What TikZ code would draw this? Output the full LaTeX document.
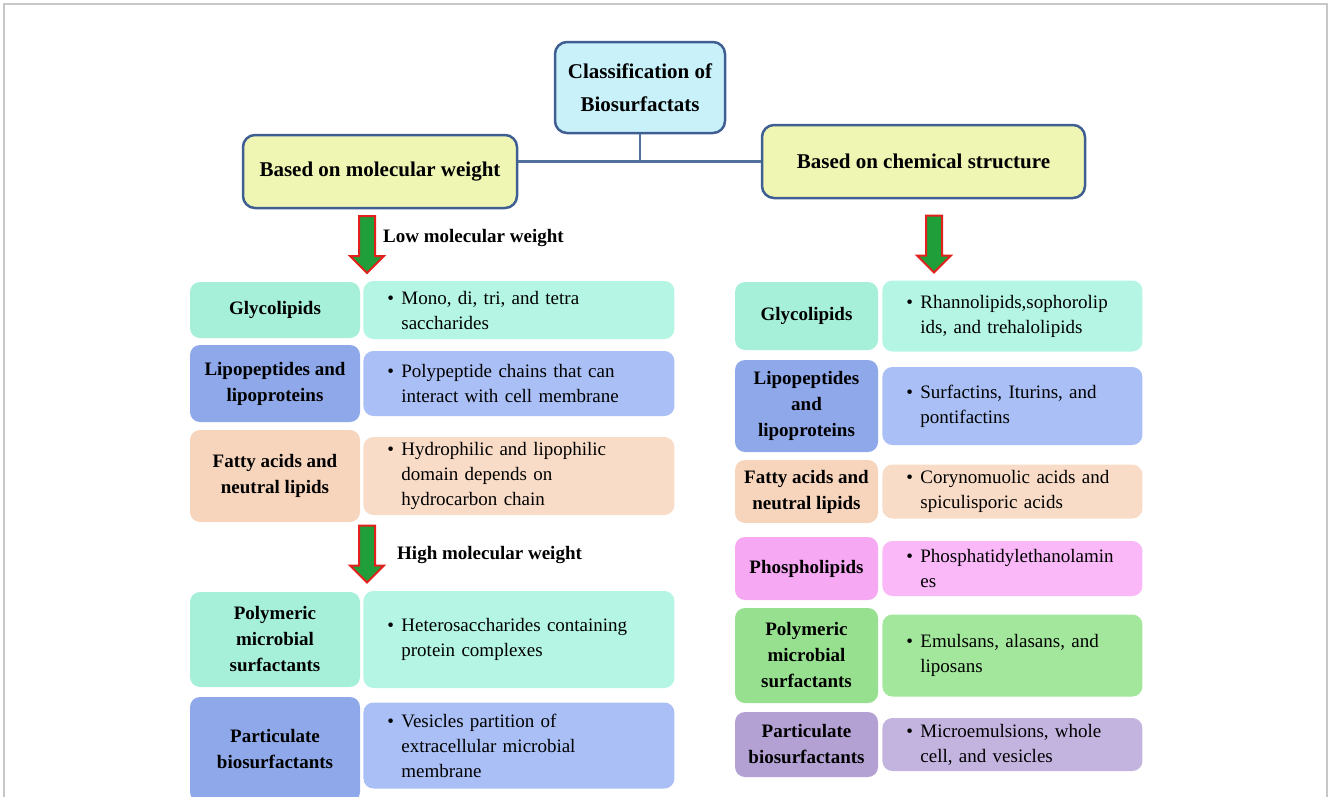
\documentclass[tikz,border=0pt]{standalone}
\usepackage{fontspec}
\setmainfont{Liberation Serif}
\usetikzlibrary{positioning, shapes.arrows}

\definecolor{hdrline}{HTML}{3F5F92}
\definecolor{hdrfill}{HTML}{EFF6B4}
\definecolor{clsfill}{HTML}{C8F1FA}
\definecolor{arrgreen}{HTML}{1F9E3A}
\definecolor{arrred}{HTML}{E3211C}
\definecolor{mintA}{HTML}{A6F0D9}
\definecolor{mintB}{HTML}{B4F6E3}
\definecolor{blueA}{HTML}{8EA8EA}
\definecolor{blueB}{HTML}{A9BFF5}
\definecolor{peachA}{HTML}{F7D5BD}
\definecolor{peachB}{HTML}{F9DCC7}
\definecolor{pinkA}{HTML}{F6A8F3}
\definecolor{pinkB}{HTML}{FAB8F8}
\definecolor{greenA}{HTML}{97E08F}
\definecolor{greenB}{HTML}{A3E79C}
\definecolor{purpleA}{HTML}{B3A1D4}
\definecolor{purpleB}{HTML}{C3B3DF}

\newcommand{\bul}[1]{\mbox{\makebox[14pt][l]{\textbullet}#1}}
\newcommand{\cnt}[1]{\mbox{\hspace*{14pt}#1}}

\begin{document}
\begin{tikzpicture}[
    x=1pt, y=-1pt,
    font=\fontsize{19}{25}\selectfont,
    header/.style={
        draw=hdrline,
        line width=2.5pt,
        rounded corners=12pt,
        fill=hdrfill,
        inner sep=0pt,
        align=center,
        font=\fontsize{21}{33}\selectfont\bfseries
    },
    link/.style={draw=hdrline!90, line width=2.5pt},
    downarrow/.style={
        single arrow, draw=arrred, fill=arrgreen, line width=2pt,
        rotate=-90, inner xsep=0pt, inner ysep=7pt,
        minimum height=57pt, minimum width=33pt,
        single arrow head extend=9pt
    },
    weight/.style={anchor=west, inner sep=0pt, font=\fontsize{19}{25}\selectfont\bfseries},
    cat/.style={rounded corners=10pt, inner sep=0pt, align=center,
        font=\fontsize{19}{26}\selectfont\bfseries},
    lcat/.style={cat, minimum width=170pt},
    rcat/.style={cat, minimum width=143pt},
    desc/.style={rounded corners=10pt, inner sep=0pt, align=left},
    ldesc/.style={desc, minimum width=311pt, text width=263pt},
    rdesc/.style={desc, minimum width=260pt, text width=212pt}
]

    % Frame
    \useasboundingbox (0,0) rectangle (1328,796);
    \draw[black!22, line width=2pt] (4,800) -- (4,4) -- (1327,4) -- (1327,800);

    % Top of the tree
    \node[header, fill=clsfill, minimum width=170pt, minimum height=91pt] (cls) at (640,87.5) {Classification of\\Biosurfactats};
    \node[header, minimum width=274pt, minimum height=73pt] (molw) at (380,171.5) {Based on molecular weight};
    \node[header, minimum width=323pt, minimum height=73pt] (chem) at (923.5,161.5) {Based on chemical structure};

    % Links
    \coordinate (split) at (cls.south |- chem.west);
    \draw[link] (molw.east |- split) -- (chem.west);
    \draw[link] (cls.south) -- (split);

    % Block arrows
    \node[downarrow] (arrLow) at (367,240.5) {};
    \node[downarrow] (arrHigh) at (367,550) {};
    \node[downarrow] (arrChem) at (934,240) {};
    \node[weight] (lowTxt) at (383,238) {Low molecular weight};
    \node[weight] (highTxt) at (397,555) {High molecular weight};

    % Molecular weight rows
    \node[lcat, fill=mintA, minimum height=56pt] (lGly) at (275,310) {Glycolipids};
    \node[ldesc, fill=mintB, minimum height=58pt, right=3pt of lGly] (lGlyD)
        {\bul{Mono, di, tri, and tetra}\\\cnt{saccharides}};

    \node[lcat, fill=blueA, minimum height=77pt] (lLip) at (275,383.5) {Lipopeptides and\\lipoproteins};
    \node[ldesc, fill=blueB, minimum height=65pt, right=3pt of lLip] (lLipD)
        {\bul{Polypeptide chains that can}\\\cnt{interact with cell membrane}};

    \node[lcat, fill=peachA, minimum height=92pt] (lFat) at (275,476) {Fatty acids and\\neutral lipids};
    \node[ldesc, fill=peachB, minimum height=78pt, right=3pt of lFat] (lFatD)
        {\bul{Hydrophilic and lipophilic}\\\cnt{domain depends on}\\\cnt{hydrocarbon chain}};

    \node[lcat, fill=mintA, minimum height=95pt] (lPoly) at (275,639.5) {Polymeric\\microbial\\surfactants};
    \node[ldesc, fill=mintB, minimum height=97pt, right=3pt of lPoly] (lPolyD)
        {\bul{Heterosaccharides containing}\\\cnt{protein complexes}};

    \node[lcat, fill=blueA, minimum height=105pt] (lPart) at (275,749.5) {Particulate\\biosurfactants};
    \node[ldesc, fill=blueB, minimum height=86pt, right=3pt of lPart, yshift=4pt] (lPartD)
        {\bul{Vesicles partition of}\\\cnt{extracellular microbial}\\\cnt{membrane}};

    % Chemical structure rows
    \node[rcat, fill=mintA, minimum height=68pt] (rGly) at (806.5,316) {Glycolipids};
    \node[rdesc, fill=mintB, minimum height=71pt, right=4pt of rGly] (rGlyD)
        {\bul{Rhannolipids,sophorolip}\\\cnt{ids, and trehalolipids}};

    \node[rcat, fill=blueA, minimum height=92pt] (rLip) at (806.5,406) {Lipopeptides\\and\\lipoproteins};
    \node[rdesc, fill=blueB, minimum height=78pt, right=4pt of rLip] (rLipD)
        {\bul{Surfactins, Iturins, and}\\\cnt{pontifactins}};

    \node[rcat, fill=peachA, minimum height=63pt] (rFat) at (806.5,491.5) {Fatty acids and\\neutral lipids};
    \node[rdesc, fill=peachB, minimum height=54pt, right=4pt of rFat] (rFatD)
        {\bul{Corynomuolic acids and}\\\cnt{spiculisporic acids}};

    \node[rcat, fill=pinkA, minimum height=63pt] (rPho) at (806.5,568.5) {Phospholipids};
    \node[rdesc, fill=pinkB, minimum height=55pt, right=4pt of rPho] (rPhoD)
        {\bul{Phosphatidylethanolamin}\\\cnt{es}};

    \node[rcat, fill=greenA, minimum height=95pt] (rPoly) at (806.5,655.5) {Polymeric\\microbial\\surfactants};
    \node[rdesc, fill=greenB, minimum height=82pt, right=4pt of rPoly] (rPolyD)
        {\bul{Emulsans, alasans, and}\\\cnt{liposans}};

    \node[rcat, fill=purpleA, minimum height=65pt] (rPart) at (806.5,744.5) {Particulate\\biosurfactants};
    \node[rdesc, fill=purpleB, minimum height=53pt, right=4pt of rPart] (rPartD)
        {\bul{Microemulsions, whole}\\\cnt{cell, and vesicles}};

\end{tikzpicture}
\end{document}
